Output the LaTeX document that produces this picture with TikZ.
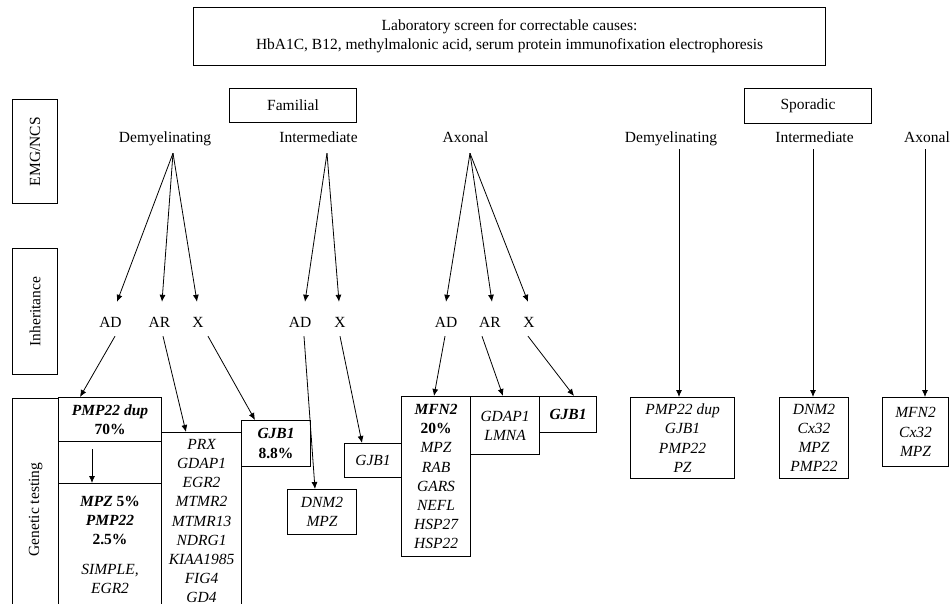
\documentclass[tikz,border=0pt]{standalone}
\usepackage{fontspec}
\setmainfont{Liberation Serif}
\usetikzlibrary{arrows.meta,calc}
\begin{document}
\begin{tikzpicture}[x=1pt,y=-1pt,
  font=\fontsize{15.5pt}{19.2pt}\selectfont,
  box/.style={draw, line width=1.1pt, inner sep=0pt, anchor=north west, align=center},
  itf/.style={font=\fontsize{15.5pt}{19.2pt}\selectfont\itshape},
  hdr/.style={inner sep=0pt, text height=11pt, text depth=3.5pt, anchor=base},
  inh/.style={inner sep=0pt, text height=10.5pt, text depth=0pt, anchor=base},
  gtxt/.style={inner sep=0pt, align=center, anchor=north},
  arr/.style={-{Latex[length=7pt,width=6pt]}, line width=0.8pt},
]
\clip (0,0) rectangle (951,604);
\fill[white] (0,0) rectangle (951,604);

% top box
\node[box, minimum width=632pt, minimum height=58pt] (lab) at (193,7)
  {Laboratory screen for correctable causes:\\HbA1C, B12, methylmalonic acid, serum protein immunofixation electrophoresis};

% group boxes
\node[box, minimum width=127pt, minimum height=34pt] (fam) at (229,88) {Familial};
\node[box, minimum width=127pt, minimum height=35pt] (spo) at (744,88) {Sporadic};

% side boxes
\node[box, minimum width=45pt, minimum height=104pt] (emg) at (12,99) {\rotatebox{90}{EMG/NCS}};
\node[box, minimum width=45pt, minimum height=126pt] (inhb) at (12,248) {\rotatebox{90}{Inheritance}};
\node[box, minimum width=46pt, minimum height=222pt] (gen) at (12,398) {\rotatebox{90}{Genetic testing}};

% headers
\node[hdr] (fdem) at (165,143) {Demyelinating};
\node[hdr] (fint) at (318.5,143) {Intermediate};
\node[hdr] (fax) at (465.5,143) {Axonal};
\node[hdr] (sdem) at (671,143) {Demyelinating};
\node[hdr] (sint) at (814.5,143) {Intermediate};
\node[hdr] (sax) at (927,143) {Axonal};

\coordinate (fdemA) at ([xshift=8pt,yshift=-6.5pt]fdem.south);
\coordinate (fintA) at ([xshift=8.5pt,yshift=-6.5pt]fint.south);
\coordinate (faxA) at ([xshift=4.5pt,yshift=-6.5pt]fax.south);

% inheritance labels
\node[inh] (dAD) at (110.5,327) {AD};
\node[inh] (dAR) at (159.5,327) {AR};
\node[inh] (dX) at (198,327) {X};
\node[inh] (iAD) at (300,327) {AD};
\node[inh] (iX) at (340,327) {X};
\node[inh] (aAD) at (446,327) {AD};
\node[inh] (aAR) at (490,327) {AR};
\node[inh] (aX) at (529,327) {X};

% gene boxes (familial)
\node[box, minimum width=103pt, minimum height=44pt] (pmpdup) at (58,397)
  {\textbf{\textit{PMP22 dup}}\\\textbf{70\%}};
\node[box, minimum width=103pt, minimum height=42pt] (gapb) at (58,441) {};
\node[box, minimum width=103pt, minimum height=140pt] (mpz) at (58,483) {};
\node[gtxt] (mpzt) at ([yshift=-12.5pt]mpz.north)
  {\textbf{\textit{MPZ} 5\%}\\\textbf{\textit{PMP22}}\\\textbf{2.5\%}\\[11pt]\textit{SIMPLE,}\\\textit{EGR2}};
\node[box, minimum width=80pt, minimum height=190pt] (prx) at (161,432) {};
\node[gtxt, itf] (prxt) at ([yshift=-7pt]prx.north)
  {PRX\\GDAP1\\EGR2\\MTMR2\\MTMR13\\NDRG1\\KIAA1985\\FIG4\\GD4};
\node[box, minimum width=69pt, minimum height=46pt] (gjbA) at (241,420)
  {\textbf{\textit{GJB1}}\\\textbf{8.8\%}};
\node[box, itf, minimum width=69pt, minimum height=45pt] (dnm) at (287,489)
  {DNM2\\MPZ};
\node[box, itf, minimum width=57pt, minimum height=34pt] (gjbI) at (344,443)
  {GJB1};
\node[box, itf, minimum width=69pt, minimum height=160pt] (mfn) at (401,396)
  {\textbf{MFN2}\\\textbf{\upshape 20\%}\\MPZ\\RAB\\GARS\\NEFL\\HSP27\\HSP22};
\node[box, itf, minimum width=69pt, minimum height=58pt] (gdap) at (470,396)
  {GDAP1\\LMNA};
\node[box, itf, minimum width=57pt, minimum height=36pt] (gjbX) at (539,396)
  {\textbf{GJB1}};

% sporadic gene boxes
\node[box, itf, minimum width=104pt, minimum height=81pt] (sdbox) at (630,397)
  {PMP22 dup\\GJB1\\PMP22\\PZ};
\node[box, itf, minimum width=69pt, minimum height=81pt] (sibox) at (779,397)
  {DNM2\\Cx32\\MPZ\\PMP22};
\node[box, itf, minimum width=66pt, minimum height=69pt] (sabox) at (882,397)
  {MFN2\\Cx32\\MPZ};

% first-level arrows
\draw[arr] (fdemA) -- ([xshift=6.5pt,yshift=14.5pt]dAD.north);
\draw[arr] (fdemA) -- ([xshift=2.5pt,yshift=14.5pt]dAR.north);
\draw[arr] (fdemA) -- ([xshift=-1pt,yshift=14.5pt]dX.north);
\draw[arr] (fintA) -- ([xshift=5pt,yshift=14.5pt]iAD.north);
\draw[arr] (fintA) -- ([xshift=-1pt,yshift=14.5pt]iX.north);
\draw[arr] (faxA) -- ([yshift=14.5pt]aAD.north);
\draw[arr] (faxA) -- ([xshift=2pt,yshift=14.5pt]aAR.north);
\draw[arr] (faxA) -- ([xshift=-1pt,yshift=14.5pt]aX.north);

% second-level arrows
\draw[arr] ([xshift=4.5pt,yshift=-9pt]dAD.south) -- ([xshift=22pt]pmpdup.north west);
\draw[arr] ([xshift=3.5pt,yshift=-9pt]dAR.south) -- ([xshift=25pt]prx.north west);
\draw[arr] ([xshift=10pt,yshift=-9pt]dX.south) -- ([xshift=14pt]gjbA.north west);
\draw[arr] ([xshift=4pt,yshift=-9pt]iAD.south) -- ([xshift=28pt]dnm.north west);
\draw[arr] ([yshift=-9pt]iX.south) -- ([xshift=18pt]gjbI.north west);
\draw[arr] ([xshift=-1pt,yshift=-9pt]aAD.south) -- ([xshift=33pt]mfn.north west);
\draw[arr] ([xshift=-8pt,yshift=-9pt]aAR.south) -- ([xshift=33pt]gdap.north west);
\draw[arr] ([xshift=-1pt,yshift=-9pt]aX.south) -- ([xshift=35pt]gjbX.north west);
\draw[arr] ([xshift=34pt,yshift=-7pt]pmpdup.south west) -- ([xshift=34pt]mpz.north west);

% sporadic arrows
\draw[arr] ([xshift=8pt,yshift=-2.5pt]sdem.south) -- ([xshift=49pt]sdbox.north west);
\draw[arr] ([xshift=-1.5pt,yshift=-2.5pt]sint.south) -- ([xshift=34pt]sibox.north west);
\draw[arr] ([xshift=-2pt,yshift=-2.5pt]sax.south) -- ([xshift=43pt]sabox.north west);
\end{tikzpicture}
\end{document}
